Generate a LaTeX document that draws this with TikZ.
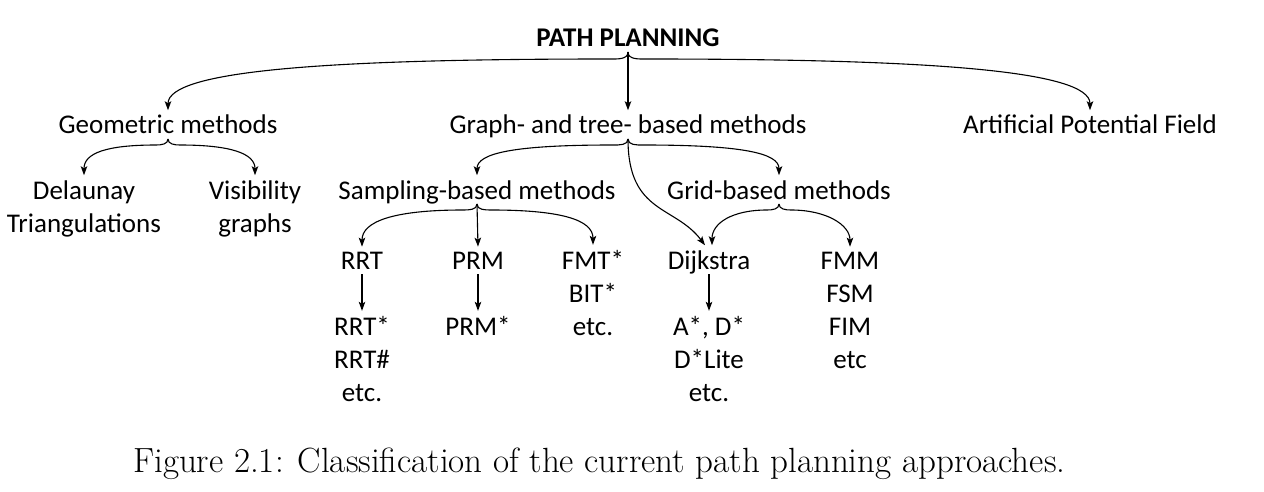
\documentclass[tikz,border=0pt]{standalone}
\usepackage{fontspec}
\newfontfamily\calfont{Carlito}
\usetikzlibrary{calc,arrows.meta}

\begin{document}
\begin{tikzpicture}[x=1pt,y=1pt,
  txt/.style={font=\calfont\fontsize{27}{33}\selectfont,inner sep=0pt,outer ysep=5pt,text depth=0pt,align=center,anchor=base},
  arr/.style={-{Stealth[length=9pt,width=6.5pt,inset=2pt]},line width=1.1pt}]
\useasboundingbox (0,0) rectangle (1264,-492);

% (multi-line nodes sit on the baseline of their last line)
\draw node[txt,font=\calfont\bfseries\fontsize{27}{33}\selectfont] (plan) at (628,-47) {PATH PLANNING};

\draw node[txt] (geo) at (168,-134) {Geometric methods};
\draw node[txt] (graph) at (628,-134) {Graph- and tree- based methods};
\draw node[txt] (apf) at (1090,-134) {Artificial Potential Field};

\draw node[txt] (del) at (84,-232) {Delaunay\\Triangulations};
\draw node[txt] (vis) at (255,-232) {Visibility\\graphs};
\draw node[txt] (samp) at (477,-199) {Sampling-based methods};
\draw node[txt] (grid) at (779,-199) {Grid-based methods};

\draw node[txt] (rrt) at (362,-269) {RRT};
\draw node[txt] (prm) at (478,-269) {PRM};
\draw node[txt] (fmt) at (593,-335) {FMT*\\BIT*\\etc.};
\draw node[txt] (dij) at (709,-269) {Dijkstra};
\draw node[txt] (fmm) at (850,-368) {FMM\\FSM\\FIM\\etc};

\draw node[txt] (rrts) at (362,-401) {RRT*\\RRT\#\\etc.};
\draw node[txt] (prms) at (478,-335) {PRM*};
\draw node[txt] (astar) at (709,-401) {A*, D*\\D*Lite\\etc.};

\draw node[anchor=base west,inner sep=0pt,font=\fontsize{35}{42}\selectfont] (cap) at (133,-472) {Figure 2.1: Classification of the current path planning approaches.};

% path planning brace
\draw[arr] (plan.south) to[out=-90,in=0] ++(-18,-7) .. controls +(-280,0) and +(0,40) .. (geo.north);
\draw[arr] (plan.south) -- (graph.north);
\draw[arr] (plan.south) to[out=-90,in=180] ++(18,-7) .. controls +(280,0) and +(0,40) .. (apf.north);

% geometric brace
\draw[arr] (geo.south) to[out=-90,in=0] ++(-12,-6) .. controls +(-50,0) and +(0,22) .. (del.north);
\draw[arr] (geo.south) to[out=-90,in=180] ++(12,-6) .. controls +(50,0) and +(0,22) .. (vis.north);

% graph brace
\draw[arr] (graph.south) to[out=-90,in=0] ++(-15,-6) .. controls +(-100,0) and +(0,22) .. (samp.north);
\draw[arr] (graph.south) to[out=-90,in=180] ++(15,-6) .. controls +(100,0) and +(0,22) .. (grid.north);
\draw[arr] (graph.south) .. controls +(0,-75) and +(-30,40) .. ($(dij.north)+(-4,0)$);

% sampling brace
\draw[arr] (samp.south) to[out=-90,in=0] ++(-14,-6) .. controls +(-70,0) and +(0,25) .. (rrt.north);
\draw[arr] (samp.south) -- (prm.north);
\draw[arr] (samp.south) to[out=-90,in=180] ++(14,-6) .. controls +(70,0) and +(0,25) .. (fmt.north);

% grid brace
\draw[arr] (grid.south) to[out=-90,in=0] ++(-12,-6) .. controls +(-35,0) and +(0,22) .. ($(dij.north)+(3,0)$);
\draw[arr] (grid.south) to[out=-90,in=180] ++(12,-6) .. controls +(35,0) and +(0,22) .. (fmm.north);

% successors
\draw[arr] (rrt.south) -- (rrts.north);
\draw[arr] (prm.south) -- (prms.north);
\draw[arr] (dij.south) -- (astar.north);

\end{tikzpicture}
\end{document}
